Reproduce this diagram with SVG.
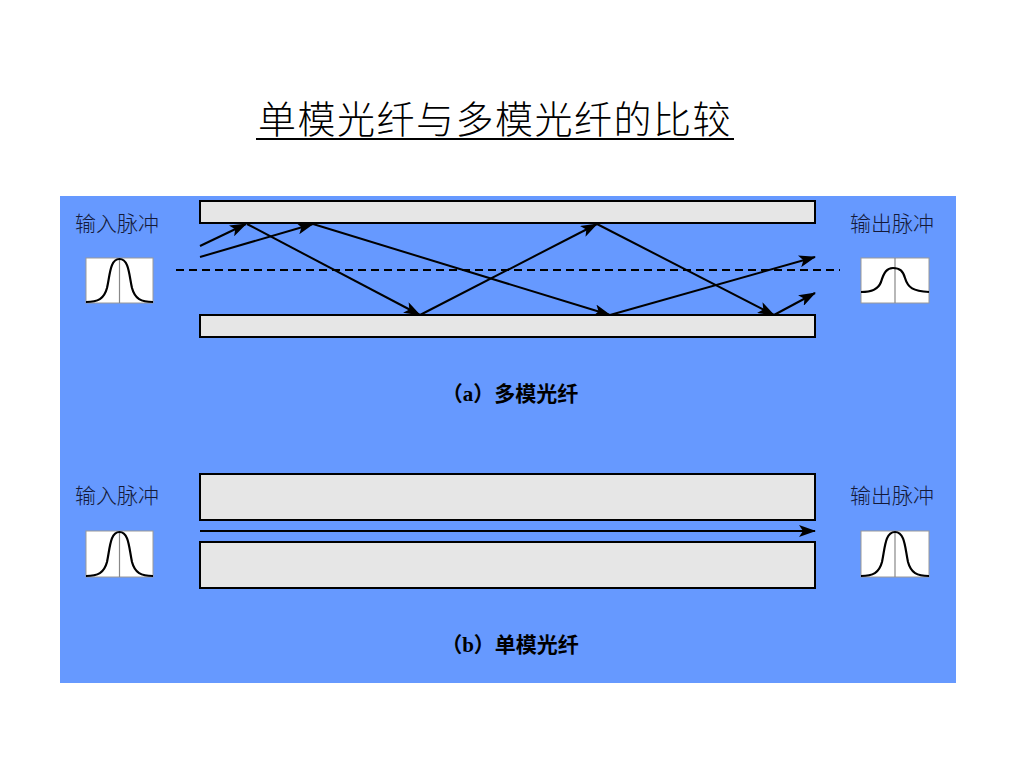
<svg xmlns="http://www.w3.org/2000/svg" width="1024" height="768" viewBox="0 0 1024 768">
<defs>
<marker id="ah" markerUnits="userSpaceOnUse" markerWidth="17" markerHeight="12" refX="16" refY="6" orient="auto">
<path d="M0,0 L17,6 L0,12 L4,6 Z" fill="#000"/>
</marker>
<style>
.clad{fill:#E6E6E6;stroke:#000;stroke-width:2}
.arr{fill:none;stroke:#000;stroke-width:2;marker-end:url(#ah)}
.pbox{fill:#fff;stroke:#999;stroke-width:1}
.pc{fill:none;stroke:#000;stroke-width:2.2}
.cl{stroke:#888;stroke-width:1.2}
.lbl{font-family:"Noto Sans CJK SC",sans-serif;font-size:21px;font-weight:300;fill:#141a3a}
.cap{font-family:"Liberation Serif","Noto Sans CJK SC",serif;font-size:21px;font-weight:bold;fill:#000}
</style>
</defs>
<rect width="1024" height="768" fill="#fff"/>
<g id="title">
<text x="495" y="133" text-anchor="middle" font-family="Noto Sans CJK SC, sans-serif" font-size="38" font-weight="300" fill="#000" letter-spacing="1.5">单模光纤与多模光纤的比较</text>
<line x1="256" y1="139" x2="734" y2="139" stroke="#000" stroke-width="2"/>
</g>
<rect id="panel" x="60" y="196" width="896" height="487" fill="#6699FF"/>
<g id="multimode">
<rect class="clad" x="200" y="201" width="615" height="22"/>
<rect class="clad" x="200" y="315" width="615" height="22"/>
<line x1="176" y1="270" x2="840" y2="270" stroke="#000" stroke-width="2" stroke-dasharray="8,5"/>
</g>
<g id="connectors">
<line class="arr" x1="200" y1="246" x2="246" y2="224"/>
<line class="arr" x1="247" y1="224" x2="420" y2="315"/>
<line class="arr" x1="420" y1="315" x2="597" y2="224"/>
<line class="arr" x1="597" y1="224" x2="774" y2="315"/>
<line class="arr" x1="774" y1="315" x2="815" y2="293"/>
<line class="arr" x1="200" y1="257" x2="313" y2="224"/>
<line class="arr" x1="313" y1="224" x2="610" y2="315"/>
<line class="arr" x1="610" y1="315" x2="815" y2="257"/>
<line class="arr" x1="200" y1="531" x2="815" y2="531"/>
</g>
<g id="in-a">
<text class="lbl" x="75" y="231">输入脉冲</text>
<rect class="pbox" x="86" y="258" width="67" height="45"/>
<line class="cl" x1="119.5" y1="258" x2="119.5" y2="303"/>
<path class="pc" d="M86,302 C98,302 104,299 107,288 C110,275 110,259 119.5,259 C129,259 129,275 132,288 C135,299 141,302 153,302"/>
</g>
<g id="out-a">
<text class="lbl" x="850" y="231">输出脉冲</text>
<rect class="pbox" x="861" y="258" width="68" height="45"/>
<line class="cl" x1="895" y1="258" x2="895" y2="303"/>
<path class="pc" d="M861,292 C871,292 878,290 881,282 C884,272 887,268 893,268 C900,268 903,271 905,278 C908,288 913,291 929,292"/>
</g>
<text id="cap-a" class="cap" x="510" y="401" text-anchor="middle">（a）多模光纤</text>
<g id="singlemode">
<rect class="clad" x="200" y="474" width="615" height="46"/>
<rect class="clad" x="200" y="542" width="615" height="46"/>
</g>
<g id="in-b">
<text class="lbl" x="75" y="503">输入脉冲</text>
<rect class="pbox" x="86" y="531" width="67" height="46"/>
<line class="cl" x1="119.5" y1="531" x2="119.5" y2="577"/>
<path class="pc" d="M86,576 C98,576 104,573 107,562 C110,548 110,532 119.5,532 C129,532 129,548 132,562 C135,573 141,576 153,576"/>
</g>
<g id="out-b">
<text class="lbl" x="850" y="503">输出脉冲</text>
<rect class="pbox" x="861" y="531" width="68" height="46"/>
<line class="cl" x1="895" y1="531" x2="895" y2="577"/>
<path class="pc" d="M861,576 C873,576 879,573 882,562 C885,548 885,532 895,532 C905,532 905,548 908,562 C911,573 917,576 929,576"/>
</g>
<text id="cap-b" class="cap" x="510" y="652" text-anchor="middle">（b）单模光纤</text>
</svg>
